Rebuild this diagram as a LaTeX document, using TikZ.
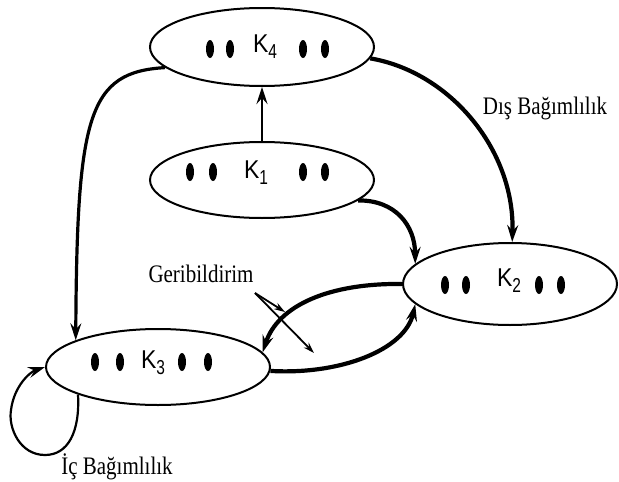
\documentclass[tikz,border=0pt]{standalone}
\usepackage{fontspec}
\usepackage{graphicx}
\setmainfont{Liberation Serif}
\setsansfont{Liberation Sans}
\usetikzlibrary{shapes.geometric,arrows.meta}
\newcommand{\klab}[1]{\sffamily\fontsize{23}{25}\selectfont\scalebox{1}[1.12]{K}\raisebox{-6pt}{\scalebox{1}[1.3]{\fontsize{15.5}{16}\selectfont #1}}}
\newcommand{\tlab}[1]{\fontsize{21}{25}\selectfont\scalebox{1}[1.2]{#1}}
\tikzset{
  blob/.style={ellipse, draw, line width=2pt, minimum width=224pt, minimum height=78pt, inner sep=0pt},
  dotn/.style={ellipse, fill=black, minimum width=8pt, minimum height=18pt, inner sep=0pt},
  klabel/.style={inner sep=0pt},
  tlabel/.style={inner sep=0pt},
  tip/.style={-{Stealth[length=17pt,width=11pt,inset=6pt]}},
  thk/.style={line width=4.2pt, tip},
  mid/.style={line width=2.8pt, tip},
  thn/.style={line width=1.8pt},
}
\begin{document}
\begin{tikzpicture}[x=1pt,y=-1pt]
\useasboundingbox[fill=white] (0,0) rectangle (619,482);
% ellipses
\node[blob] (k4) at (262,47) {};
\node[blob, minimum height=76pt] (k1) at (262,180) {};
\node[blob, minimum width=214pt, minimum height=82pt] (k2) at (510,284) {};
\node[blob, minimum height=76pt] (k3) at (158,367) {};
% dots
\foreach \x [count=\i] in {210,230,303,325} \node[dotn] (d4\i) at (\x,49) {};
\foreach \x [count=\i] in {190,213,303,325} \node[dotn] (d1\i) at (\x,172) {};
\foreach \x [count=\i] in {445,466,539,561} \node[dotn] (d2\i) at (\x,285) {};
\foreach \x [count=\i] in {95,120,182,208} \node[dotn] (d3\i) at (\x,362) {};
% K labels
\node[klabel] (l4) at (265,47) {\klab{4}};
\node[klabel] (l1) at (256,173) {\klab{1}};
\node[klabel] (l2) at (509,281) {\klab{2}};
\node[klabel] (l3) at (153,363) {\klab{3}};
% text labels
\node[tlabel] (dis) at (545,108) {\tlab{Dış Bağımlılık}};
\node[tlabel] (geri) at (201,274) {\tlab{Geribildirim}};
\node[tlabel] (ic) at (117,467) {\tlab{İç Bağımlılık}};
% connectors
\draw[mid] (k1.north) -- (k4.south);
\draw[line width=3.2pt, tip] (k4.192) .. controls (88,72) and (77,115) .. (k3.162);
\draw[thk] (k4.-6) .. controls (450,72) and (515,150) .. (k2.87);
\draw[thk] (k1.-12) .. controls (395,200) and (415,225) .. (k2.168);
\draw[thk] (k3.-2) .. controls (340,375) and (405,350) .. (k2.192);
\draw[thk] (k2.west) .. controls (330,283) and (278,305) .. (k3.8);
% self loop
\draw[line width=2.2pt, tip] (k3.199) .. controls (80,432) and (68,455) .. (45,455)
   .. controls (20,455) and (8,428) .. (11,410) .. controls (14,386) and (30,372) .. (k3.west);
% feedback pointers
\coordinate (g0) at (255,293);
\coordinate (g1) at (285,312);
\coordinate (g2) at (314,353);
\draw[thn, -{Stealth[open,length=11pt,width=7pt]}] (g0) -- (g1);
\draw[thn, -{Stealth[length=11pt,width=7pt]}] (g0) -- (g2);
\end{tikzpicture}
\end{document}
